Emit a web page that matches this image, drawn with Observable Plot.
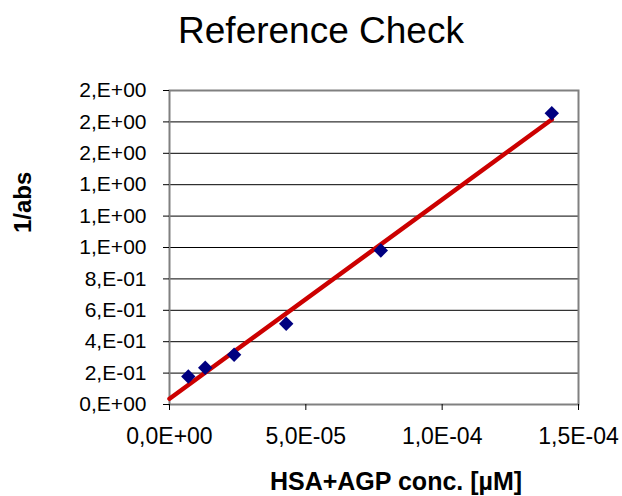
<!DOCTYPE html>
<html>
<head>
<meta charset="utf-8">
<script src="https://cdn.jsdelivr.net/npm/d3@7"></script>
<script src="https://cdn.jsdelivr.net/npm/@observablehq/plot@0.6"></script>
<style>
  html, body { margin: 0; padding: 0; background: white; }
  body { width: 622px; height: 496px; overflow: hidden; font-family: "Liberation Sans", Arial, sans-serif; }
  #title { height: 61px; line-height: 61px; font-size: 37px; text-align: center; color: black; padding-left: 20px; box-sizing: border-box; }
  #chart svg { display: block; }
</style>
</head>
<body>
<div id="title">Reference Check</div>
<div id="chart"></div>
<script>
// Data
const conc = [6.9e-6, 1.31e-5, 2.37e-5, 4.28e-5, 7.75e-5, 1.402e-4];   // HSA+AGP conc. [µM]
const invAbs = [0.178, 0.234, 0.317, 0.514, 0.981, 1.855];           // 1/abs
const xTicks = [0, 5e-5, 1e-4, 1.5e-4];
const yTicks = [0, 0.2, 0.4, 0.6, 0.8, 1.0, 1.2, 1.4, 1.6, 1.8, 2.0];
const titleText = "Reference Check";
const xLabel = "HSA+AGP conc. [µM]";
const yLabel = "1/abs";

const points = conc.map((x, i) => ({x, y: invAbs[i]}));

// Linear trendline (least squares), drawn from x = 0 to last point like the reference
const mx = d3.mean(conc), my = d3.mean(invAbs);
const slope = d3.sum(conc, (x, i) => (x - mx) * (invAbs[i] - my)) / d3.sum(conc, x => (x - mx) ** 2);
const intercept = my - slope * mx;
const trend = [0, d3.max(conc)].map(x => ({x, y: intercept + slope * x}));

function expParts(s) {
  const [m, e] = s.split("e");
  const n = +e;
  return [m.replace(".", ","), (n < 0 ? "-" : "+") + String(Math.abs(n)).padStart(2, "0")];
}
const fmtY = v => {
  if (Math.abs(v) < 1e-12) return "0,E+00";
  const [m, e] = expParts(v.toExponential(0));
  return m + ",E" + e;
};
const fmtX = v => {
  const [m, e] = expParts(v.toExponential(1));
  return m + "E" + e;
};

document.getElementById("title").textContent = titleText;

const chart = Plot.plot({
  width: 622,
  height: 435,
  marginLeft: 169,
  marginRight: 44,
  marginTop: 29,
  marginBottom: 92,
  style: {fontFamily: "'Liberation Sans', Arial, sans-serif", background: "white", color: "black"},
  x: {domain: [0, 1.5e-4]},
  y: {domain: [0, 2.0]},
  marks: [
    Plot.gridY(yTicks.slice(1, -1), {stroke: "black", strokeOpacity: 1, strokeWidth: 1}),
    Plot.frame({stroke: "#808080", strokeWidth: 2}),
    Plot.axisY(yTicks, {anchor: "left", tickSize: 6, tickPadding: 17, tickFormat: fmtY, fontSize: 21, label: null, stroke: "black"}),
    Plot.axisX(xTicks, {anchor: "bottom", tickSize: 6, tickPadding: 17, tickFormat: fmtX, fontSize: 23, label: null, stroke: "black"}),
    Plot.line(trend, {x: "x", y: "y", stroke: "#cc0000", strokeWidth: 4.5}),
    Plot.dot(points, {x: "x", y: "y", symbol: "diamond2", r: 6.5, fill: "#000080", stroke: "none"}),
    Plot.text([xLabel], {frameAnchor: "bottom", text: d => d, dy: 77, dx: 22, fontSize: 25, fontWeight: "bold", lineAnchor: "middle"}),
    Plot.text([yLabel], {frameAnchor: "left", text: d => d, rotate: -90, dx: -146, dy: -14.5, fontSize: 24, fontWeight: "bold", lineAnchor: "middle"})
  ]
});
document.getElementById("chart").appendChild(chart);
</script>
</body>
</html>
